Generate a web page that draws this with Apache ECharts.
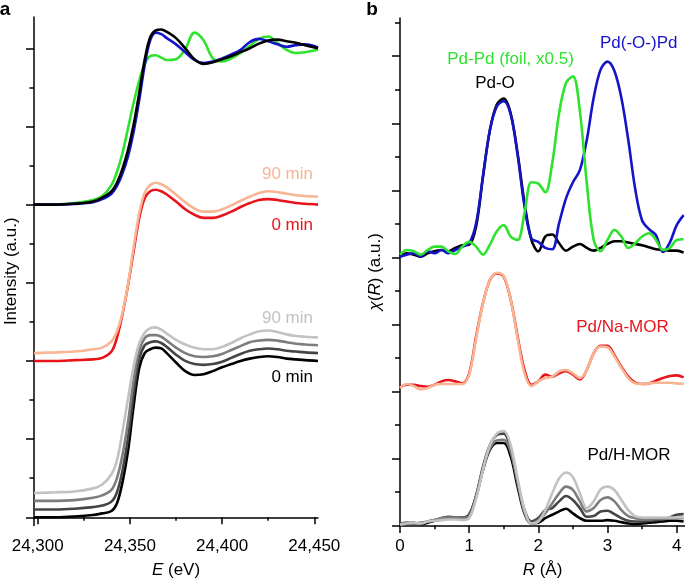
<!DOCTYPE html>
<html><head><meta charset="utf-8">
<script src="https://cdn.jsdelivr.net/npm/echarts@6/dist/echarts.min.js"></script>
<style>html,body{margin:0;padding:0;background:#fff}#c{width:685px;height:588px}</style>
</head><body><div id="c"></div>
<script>
// ---------- Panel a: XANES ----------
const energy = [24298,24310,24320,24330,24335,24340,24343,24346,24349,24352,24355,24358,24361,24364,24367,24370,24375,24380,24385,24390,24395,24400,24405,24410,24415,24420,24425,24430,24435,24440,24445,24452];
const xanesPdO   = [4.00,4.00,4.01,4.04,4.09,4.17,4.28,4.46,4.70,5.02,5.42,5.85,6.14,6.23,6.24,6.21,6.13,6.00,5.86,5.80,5.82,5.86,5.90,5.95,6.00,6.06,6.10,6.11,6.09,6.07,6.04,6.00];
const xanesPdOPd = [4.00,4.00,4.01,4.03,4.07,4.14,4.24,4.40,4.62,4.93,5.33,5.78,6.10,6.20,6.18,6.13,6.05,5.95,5.85,5.81,5.83,5.87,5.92,5.98,6.08,6.12,6.09,6.05,6.02,6.04,6.05,6.01];
const xanesPdFoil= [4.00,4.00,4.02,4.06,4.11,4.25,4.42,4.66,4.98,5.30,5.58,5.80,5.90,5.91,5.88,5.85,5.86,5.99,6.20,6.10,5.87,5.83,5.87,5.94,6.03,6.12,6.15,6.07,5.98,5.94,5.95,5.98];
const xanesNa90  = [2.10,2.11,2.12,2.15,2.17,2.25,2.38,2.62,2.98,3.45,3.88,4.15,4.25,4.28,4.26,4.22,4.13,4.03,3.95,3.91,3.91,3.94,3.99,4.05,4.10,4.15,4.17,4.16,4.14,4.12,4.11,4.10];
const xanesNa0   = [2.00,2.00,2.01,2.02,2.04,2.12,2.30,2.60,2.97,3.40,3.82,4.08,4.17,4.19,4.17,4.13,4.04,3.94,3.87,3.83,3.83,3.86,3.91,3.97,4.02,4.06,4.07,4.06,4.04,4.02,4.01,4.00];
const xanesH0    = [0.00,0.00,0.01,0.03,0.05,0.08,0.18,0.45,0.85,1.42,1.90,2.10,2.15,2.17,2.16,2.10,1.98,1.87,1.82,1.83,1.87,1.92,1.96,2.00,2.03,2.05,2.06,2.05,2.03,2.02,2.01,2.00];
const xanesH30   = [0.10,0.10,0.11,0.13,0.15,0.20,0.32,0.60,1.02,1.58,2.02,2.20,2.24,2.25,2.23,2.18,2.08,2.00,1.96,1.95,1.96,1.99,2.04,2.09,2.13,2.15,2.16,2.15,2.13,2.12,2.11,2.10];
const xanesH60   = [0.21,0.21,0.22,0.25,0.28,0.35,0.50,0.80,1.22,1.75,2.13,2.29,2.33,2.33,2.31,2.26,2.17,2.10,2.06,2.05,2.06,2.09,2.14,2.19,2.24,2.26,2.27,2.26,2.24,2.22,2.21,2.20];
const xanesH90   = [0.31,0.32,0.33,0.37,0.42,0.55,0.73,1.10,1.52,1.93,2.22,2.36,2.42,2.43,2.40,2.35,2.27,2.21,2.17,2.15,2.15,2.18,2.23,2.29,2.34,2.38,2.39,2.37,2.34,2.32,2.31,2.30];
const eMajorTicks = [24300,24350,24400,24450];
const eMinorTicks = [24325,24375,24425];
const aMajorY = [0,1,2,3,4,5,6];
const aMinorY = [0.5,1.5,2.5,3.5,4.5,5.5];

// ---------- Panel b: EXAFS FT ----------
const rGrid = [0,0.1,0.2,0.3,0.4,0.5,0.6,0.7,0.8,0.9,1.0,1.1,1.2,1.3,1.4,1.5,1.6,1.7,1.8,1.9,2.0,2.1,2.2,2.3,2.4,2.5,2.6,2.7,2.8,2.9,3.0,3.1,3.2,3.3,3.4,3.5,3.6,3.7,3.8,3.9,4.0,4.1];
const ftPdO   = [4.01,4.06,4.04,4.01,4.06,4.09,4.11,4.09,4.14,4.18,4.19,4.46,5.21,5.90,6.28,6.37,6.15,5.55,4.81,4.26,4.09,4.31,4.34,4.21,4.10,4.16,4.20,4.14,4.10,4.14,4.20,4.24,4.24,4.22,4.20,4.18,4.15,4.12,4.11,4.10,4.10,4.07];
const ftPdOPd = [4.01,4.04,4.06,4.01,4.09,4.06,4.11,4.06,4.11,4.16,4.21,4.51,5.21,5.90,6.25,6.33,6.13,5.53,4.76,4.28,4.23,4.14,4.12,4.51,4.88,5.12,5.30,5.75,6.38,6.80,6.92,6.78,6.38,5.75,5.02,4.55,4.42,4.33,4.08,4.22,4.48,4.63];
const ftPdFoil= [4.04,4.11,4.09,4.04,4.11,4.16,4.16,4.09,4.05,4.16,4.23,4.16,4.04,4.19,4.39,4.48,4.31,4.26,4.66,5.12,5.10,4.97,5.40,6.15,6.60,6.70,6.18,5.11,4.26,4.09,4.26,4.41,4.31,4.14,4.21,4.31,4.36,4.26,4.11,4.14,4.26,4.27];
const ftNa0   = [2.06,2.10,2.10,2.08,2.07,2.10,2.15,2.17,2.15,2.12,2.27,2.82,3.32,3.66,3.76,3.71,3.37,2.82,2.32,2.10,2.15,2.25,2.22,2.27,2.30,2.25,2.18,2.32,2.57,2.68,2.68,2.54,2.37,2.22,2.13,2.11,2.12,2.16,2.20,2.23,2.24,2.21];
const ftNa90  = [2.05,2.11,2.08,2.03,2.05,2.10,2.11,2.11,2.11,2.11,2.25,2.79,3.32,3.66,3.77,3.72,3.37,2.79,2.27,2.08,2.15,2.20,2.22,2.30,2.32,2.27,2.20,2.32,2.57,2.67,2.66,2.52,2.35,2.20,2.12,2.11,2.12,2.13,2.13,2.13,2.12,2.11];
const ftH0    = [0.02,0.03,0.04,0.02,0.04,0.07,0.09,0.11,0.11,0.11,0.16,0.43,0.83,1.13,1.23,1.23,1.03,0.58,0.18,0.03,0.04,0.11,0.16,0.21,0.25,0.18,0.11,0.07,0.07,0.07,0.08,0.07,0.05,0.03,0.02,0.03,0.04,0.05,0.06,0.07,0.07,0.06];
const ftH30   = [0.03,0.04,0.03,0.04,0.06,0.08,0.11,0.13,0.12,0.12,0.16,0.45,0.88,1.20,1.35,1.37,1.13,0.65,0.23,0.06,0.11,0.23,0.26,0.36,0.44,0.38,0.26,0.13,0.14,0.21,0.22,0.17,0.11,0.07,0.06,0.06,0.07,0.08,0.09,0.12,0.16,0.17];
const ftH60   = [0.02,0.04,0.03,0.03,0.06,0.08,0.11,0.12,0.12,0.11,0.14,0.43,0.85,1.15,1.27,1.28,1.10,0.65,0.20,0.03,0.08,0.18,0.33,0.48,0.58,0.53,0.36,0.21,0.26,0.38,0.42,0.36,0.23,0.14,0.11,0.09,0.09,0.10,0.10,0.10,0.11,0.11];
const ftH90   = [0.01,0.03,0.04,0.03,0.06,0.07,0.08,0.09,0.09,0.08,0.11,0.40,0.83,1.20,1.37,1.41,1.20,0.70,0.23,0.03,0.06,0.23,0.48,0.70,0.79,0.72,0.48,0.26,0.36,0.54,0.58,0.53,0.38,0.23,0.14,0.12,0.12,0.12,0.12,0.12,0.12,0.12];
const rMajorTicks = [0,1,2,3,4];
const rMinorTicks = [0.5,1.5,2.5,3.5];
const bMajorY = [0,1,2,3,4,5,6,7];
const bMinorY = [0.5,1.5,2.5,3.5,4.5,5.5,6.5,7.5];

const FONT = '"Liberation Sans", Arial, Helvetica, sans-serif';
const C = {blue:'#1414c8', green:'#2ee22e', red:'#e8141c', salmon:'#f7b593',
           black:'#000000', dgray:'#454545', mgray:'#7d7d7d', lgray:'#c2c2c2'};

function line(x, y, color, xi, yi) {
  return {type:'line', xAxisIndex:xi, yAxisIndex:yi, data:x.map((v,i)=>[v,y[i]]),
    symbol:'none', smooth:0.35, silent:true, animation:false,
    lineStyle:{color:color, width:2.6}, itemStyle:{color:color}};
}
function majorAxis(gi, min, max, ticks, len, extra) {
  return Object.assign({type:'value', gridIndex:gi, min:min, max:max,
    axisLine:{show:true, lineStyle:{color:'#000', width:1.5}},
    axisTick:{show:true, customValues:ticks, length:len, lineStyle:{color:'#000', width:1.5}},
    splitLine:{show:false}}, extra);
}
function minorAxis(gi, min, max, ticks, len, pos) {
  return {type:'value', gridIndex:gi, min:min, max:max, position:pos,
    axisLine:{show:false},
    axisTick:{show:true, customValues:ticks, length:len, lineStyle:{color:'#000', width:1.5}},
    axisLabel:{show:false}, splitLine:{show:false}};
}
const nameStyle = {fontSize:17, color:'#000', fontFamily:FONT, rich:{i:{fontStyle:'italic', fontSize:17, fontFamily:FONT, color:'#000'}}};
const labelStyle = {show:true, fontSize:17, color:'#000', fontFamily:FONT, margin:12};

const chart = echarts.init(document.getElementById('c'), null, {renderer:'canvas'});
chart.setOption({
  backgroundColor:'#fff',
  animation:false,
  grid:[{left:34, top:17, width:284, height:508.5},
        {left:400, top:18, width:285, height:507.5}],
  xAxis:[
    majorAxis(0, 24298, 24452, eMajorTicks, 7, {position:'bottom',
      axisLabel:Object.assign({customValues:eMajorTicks, formatter:v=>Number(v).toLocaleString('en-US')}, labelStyle),
      name:'{i|E} (eV)', nameLocation:'middle', nameGap:36, nameTextStyle:nameStyle}),
    minorAxis(0, 24298, 24452, eMinorTicks, 3.5, 'bottom'),
    majorAxis(1, 0, 4.12, rMajorTicks, 7.5, {position:'bottom',
      axisLabel:Object.assign({customValues:rMajorTicks}, labelStyle),
      name:'{i|R} (Å)', nameLocation:'middle', nameGap:36, nameTextStyle:nameStyle}),
    minorAxis(1, 0, 4.12, rMinorTicks, 3.7, 'bottom')
  ],
  yAxis:[
    majorAxis(0, -0.105, 6.40, aMajorY, 8, {position:'left', axisLabel:{show:false},
      name:'Intensity (a.u.)', nameLocation:'middle', nameGap:14, nameTextStyle:nameStyle}),
    minorAxis(0, -0.105, 6.40, aMinorY, 4.5, 'left'),
    majorAxis(1, 0, 7.57, bMajorY, 8, {position:'left', axisLabel:{show:false},
      name:'{i|χ}({i|R}) (a.u.)', nameLocation:'middle', nameGap:16, nameTextStyle:nameStyle}),
    minorAxis(1, 0, 7.57, bMinorY, 5, 'left')
  ],
  series:[
    line(energy, xanesPdFoil, C.green, 0, 0),
    line(energy, xanesPdOPd, C.blue, 0, 0),
    line(energy, xanesPdO, C.black, 0, 0),
    line(energy, xanesNa0, C.red, 0, 0),
    line(energy, xanesNa90, C.salmon, 0, 0),
    line(energy, xanesH0, C.black, 0, 0),
    line(energy, xanesH30, C.dgray, 0, 0),
    line(energy, xanesH60, C.mgray, 0, 0),
    line(energy, xanesH90, C.lgray, 0, 0),
    line(rGrid, ftPdO, C.black, 2, 2),
    line(rGrid, ftPdOPd, C.blue, 2, 2),
    line(rGrid, ftPdFoil, C.green, 2, 2),
    line(rGrid, ftNa0, C.red, 2, 2),
    line(rGrid, ftNa90, C.salmon, 2, 2),
    line(rGrid, ftH0, C.black, 2, 2),
    line(rGrid, ftH30, C.dgray, 2, 2),
    line(rGrid, ftH60, C.mgray, 2, 2),
    line(rGrid, ftH90, C.lgray, 2, 2)
  ],
  graphic:[
    {type:'text', x:5, y:10, style:{text:'a', font:'bold 19px '+FONT, fill:'#000', align:'center', verticalAlign:'middle'}},
    {type:'text', x:372, y:10, style:{text:'b', font:'bold 19px '+FONT, fill:'#000', align:'center', verticalAlign:'middle'}},
    {type:'text', x:313, y:174, style:{text:'90 min', font:'17px '+FONT, fill:C.salmon, align:'right', verticalAlign:'middle'}},
    {type:'text', x:313, y:225, style:{text:'0 min', font:'17px '+FONT, fill:C.red, align:'right', verticalAlign:'middle'}},
    {type:'text', x:313, y:318, style:{text:'90 min', font:'17px '+FONT, fill:C.lgray, align:'right', verticalAlign:'middle'}},
    {type:'text', x:313, y:377, style:{text:'0 min', font:'17px '+FONT, fill:'#000', align:'right', verticalAlign:'middle'}},
    {type:'text', x:510.5, y:59, style:{text:'Pd-Pd (foil, x0.5)', font:'17px '+FONT, fill:C.green, align:'center', verticalAlign:'middle'}},
    {type:'text', x:638.7, y:43, style:{text:'Pd(-O-)Pd', font:'17px '+FONT, fill:C.blue, align:'center', verticalAlign:'middle'}},
    {type:'text', x:495, y:83, style:{text:'Pd-O', font:'17px '+FONT, fill:'#000', align:'center', verticalAlign:'middle'}},
    {type:'text', x:622.5, y:327, style:{text:'Pd/Na-MOR', font:'17px '+FONT, fill:C.red, align:'center', verticalAlign:'middle'}},
    {type:'text', x:629, y:455, style:{text:'Pd/H-MOR', font:'17px '+FONT, fill:'#000', align:'center', verticalAlign:'middle'}}
  ]
});
</script>
</body></html>
